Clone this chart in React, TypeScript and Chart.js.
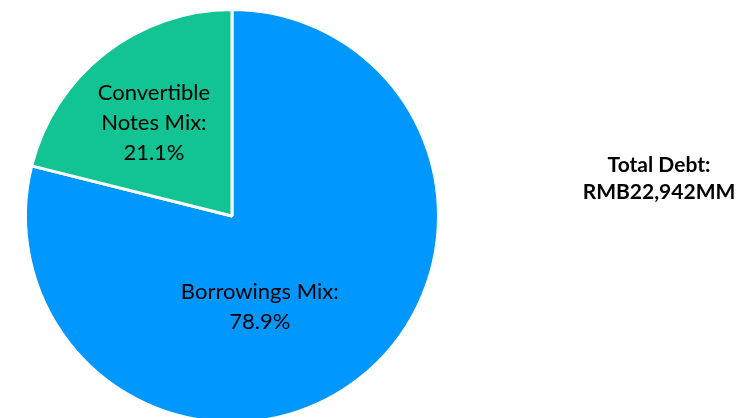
import React, { useEffect, useRef } from "react";
import { Chart, registerables } from "chart.js";

Chart.register(...registerables);

const categories = ["Borrowings Mix", "Convertible Notes Mix"];
const values = [78.9, 21.1];
const colors = ["#0098FF", "#12C493"];
const totalLines = ["Total Debt:", "RMB22,942MM"];

const FONT = "Lato, 'Open Sans', sans-serif";

const labelPlugin = {
  id: "sliceLabels",
  afterDatasetsDraw(chart: any) {
    const ctx = chart.ctx;
    const meta = chart.getDatasetMeta(0);
    const placement = [
      { angle: (73 * Math.PI) / 180, k: 0.46 },
      { angle: (-130 * Math.PI) / 180, k: 0.588 },
    ];
    ctx.save();
    ctx.fillStyle = "#000";
    ctx.textAlign = "center";
    ctx.textBaseline = "middle";
    ctx.font = `22px ${FONT}`;
    meta.data.forEach((arc: any, i: number) => {
      const p = arc.getProps(["x", "y", "startAngle", "endAngle", "outerRadius"], true);
      const a = placement[i].angle ?? (p.startAngle + p.endAngle) / 2;
      const r = p.outerRadius * placement[i].k;
      const cx = p.x + r * Math.cos(a);
      const cy = p.y + r * Math.sin(a);
      let lines: string[];
      if (i === 1) lines = ["Convertible", "Notes Mix:", values[i].toFixed(1) + "%"];
      else lines = [categories[i] + ":", values[i].toFixed(1) + "%"];
      const lh = 30;
      lines.forEach((t, j) => {
        ctx.fillText(t, cx, cy + (j - (lines.length - 1) / 2) * lh);
      });
    });
    ctx.font = `bold 21px ${FONT}`;
    totalLines.forEach((t, j) => {
      ctx.fillText(t, 659, 165 + j * 27);
    });
    ctx.restore();
  },
};

export default function App() {
  const ref = useRef<HTMLCanvasElement>(null);
  useEffect(() => {
    if (!ref.current) return;
    const chart = new Chart(ref.current, {
      type: "pie",
      data: {
        labels: categories,
        datasets: [
          {
            data: values,
            backgroundColor: colors,
            borderColor: "#FFFFFF",
            borderWidth: 3,
          },
        ],
      },
      options: {
        responsive: false,
        animation: false,
        events: [],
        layout: { padding: { left: 24, top: 8, right: 298, bottom: 16 } },
        plugins: {
          legend: { display: false },
          tooltip: { enabled: false },
        },
      },
      plugins: [labelPlugin],
    });
    return () => chart.destroy();
  }, []);
  return (
    <div style={{ position: "fixed", left: 0, top: 0, width: 738, height: 418, overflow: "hidden", background: "#fff" }}>
      <canvas ref={ref} width={738} height={440} style={{ display: "block" }} />
    </div>
  );
}
